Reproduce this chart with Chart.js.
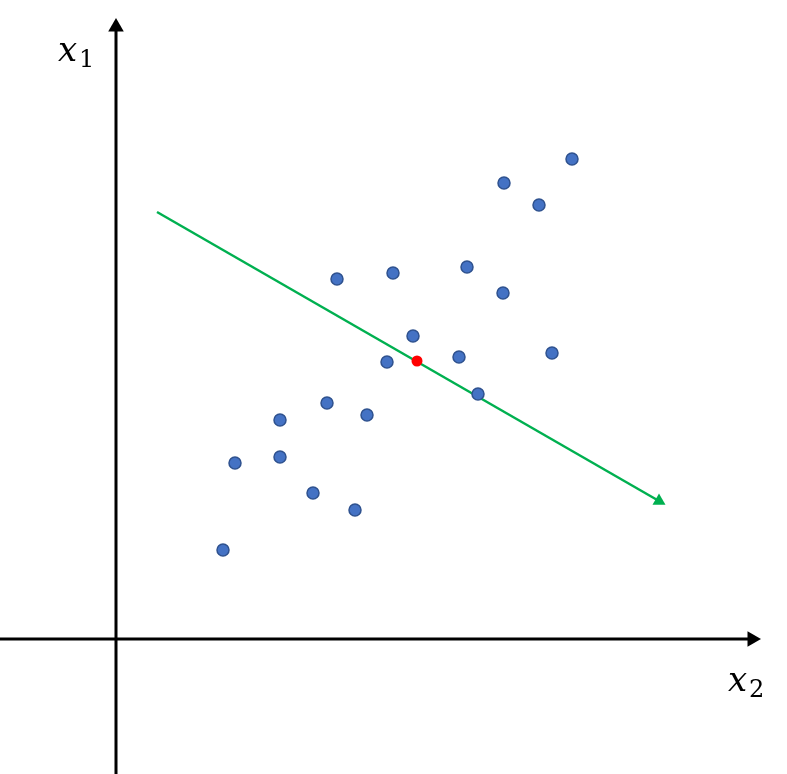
<!DOCTYPE html>
<html>
<head>
<meta charset="utf-8">
<script src="https://cdn.jsdelivr.net/npm/chart.js@4/dist/chart.umd.min.js"></script>
<style>
  body { margin: 0; background: #fff; }
  canvas { display: block; }
</style>
</head>
<body>
<canvas id="chart" width="787" height="774"></canvas>
<script>
// sample points (x2 horizontal, x1 vertical)
const sampleX = [45.6, 38.8, 42.3, 22.1, 27.7, 35.1, 38.7, 29.7, 27.1, 34.3, 43.6, 36.2, 21.1, 16.4, 25.1, 11.9, 16.4, 19.7, 23.9, 10.7];
const sampleY = [48.0, 45.6, 43.4, 36.0, 36.6, 37.2, 34.6, 30.3, 27.7, 28.2, 28.6, 24.5, 23.6, 21.9, 22.4, 17.6, 18.2, 14.6, 12.9, 8.9];
// mean point
const meanPoint = [30.1, 27.8];
// direction arrow start / end
const arrowX = [4.1, 54.3];
const arrowY = [42.7, 13.8];
// axis extents
const xAxisLine = [-11.6, 63.6];
const yAxisLine = [-13.5, 61.2];
const axisLabels = ['x', '1', 'x', '2'];

const points = sampleX.map((x, i) => ({ x: x, y: sampleY[i] }));

const labelPlugin = {
    id: 'axisLabels',
    afterDraw(chart) {
        const ctx = chart.ctx;
        const xs = chart.scales.x;
        const ys = chart.scales.y;
        ctx.save();
        ctx.fillStyle = '#000';
        ctx.textBaseline = 'alphabetic';
        // x1 near top of vertical axis
        let px = xs.getPixelForValue(-5.8);
        let py = ys.getPixelForValue(57.8);
        ctx.font = 'italic 34px "DejaVu Serif"';
        ctx.fillText(axisLabels[0], px, py);
        ctx.font = '24px "DejaVu Serif"';
        ctx.fillText(axisLabels[1], px + 21, py + 6);
        // x2 below horizontal axis
        px = xs.getPixelForValue(61.2);
        py = ys.getPixelForValue(-5.2);
        ctx.font = 'italic 34px "DejaVu Serif"';
        ctx.fillText(axisLabels[2], px, py);
        ctx.font = '24px "DejaVu Serif"';
        ctx.fillText(axisLabels[3], px + 21, py + 6);
        ctx.restore();
    }
};

new Chart(document.getElementById('chart'), {
    type: 'scatter',
    data: {
        datasets: [
            {
                label: 'mean',
                data: [{ x: meanPoint[0], y: meanPoint[1] }],
                backgroundColor: '#FF0000',
                borderColor: '#FF0000',
                pointRadius: 5.5,
                borderWidth: 0,
                order: 1
            },
            {
                label: 'samples',
                data: points,
                backgroundColor: '#4472C4',
                borderColor: '#2F528F',
                borderWidth: 1.5,
                pointRadius: 6,
                order: 2
            },
            {
                label: 'direction',
                data: [{ x: arrowX[0], y: arrowY[0] }, { x: arrowX[1], y: arrowY[1] }],
                showLine: true,
                borderColor: '#00B050',
                backgroundColor: '#00B050',
                borderWidth: 2.5,
                pointStyle: 'triangle',
                pointRadius: [0, 7.5],
                pointRotation: [0, 120],
                pointBorderWidth: 0,
                order: 3
            },
            {
                label: 'x2 axis',
                data: [{ x: xAxisLine[0], y: 0 }, { x: xAxisLine[1], y: 0 }],
                showLine: true,
                borderColor: '#000',
                backgroundColor: '#000',
                borderWidth: 3,
                pointStyle: 'triangle',
                pointRadius: [0, 9],
                pointRotation: [0, 90],
                pointBorderWidth: 0,
                order: 4
            },
            {
                label: 'x1 axis',
                data: [{ x: 0, y: yAxisLine[0] }, { x: 0, y: yAxisLine[1] }],
                showLine: true,
                borderColor: '#000',
                backgroundColor: '#000',
                borderWidth: 3,
                pointStyle: 'triangle',
                pointRadius: [0, 9],
                pointRotation: [0, 0],
                pointBorderWidth: 0,
                order: 4
            }
        ]
    },
    options: {
        responsive: false,
        animation: false,
        layout: { padding: 0, autoPadding: false },
        plugins: {
            legend: { display: false },
            tooltip: { enabled: false }
        },
        scales: {
            x: { type: 'linear', min: -11.6, max: 67.1, display: false },
            y: { type: 'linear', min: -13.5, max: 63.9, display: false }
        }
    },
    plugins: [labelPlugin]
});
</script>
</body>
</html>
